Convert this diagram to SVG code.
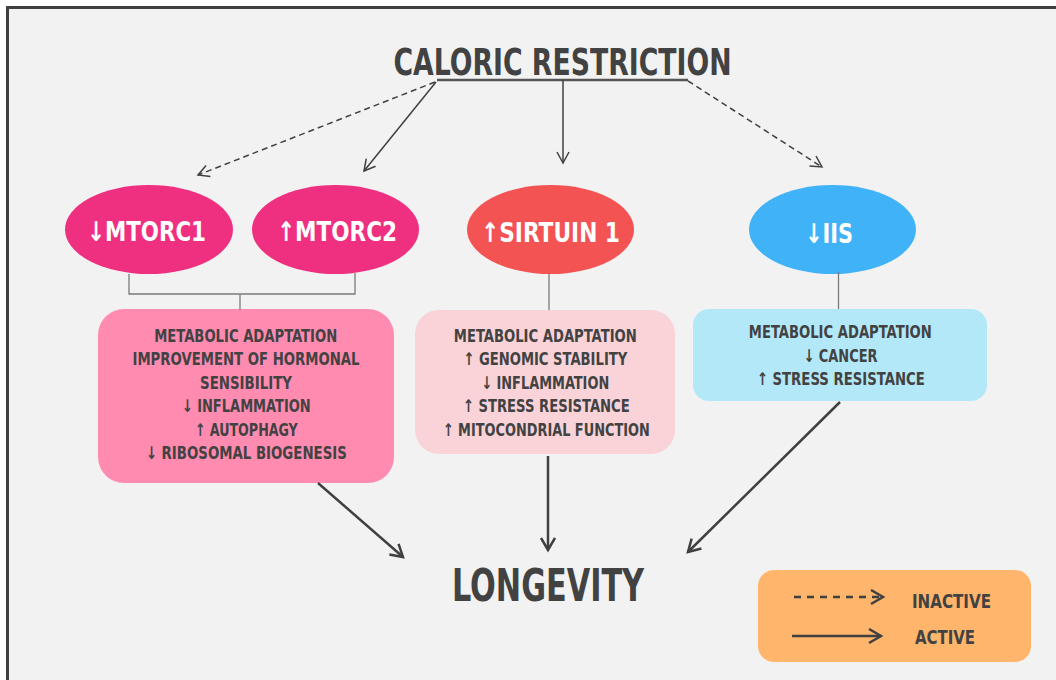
<svg xmlns="http://www.w3.org/2000/svg" width="1056" height="680" viewBox="0 0 1056 680">
<defs>
<style>
text{font-family:"Liberation Sans Narrow","DejaVu Sans Condensed","Liberation Sans",sans-serif;font-weight:bold;text-anchor:middle}
.w{fill:#ffffff;font-size:27px}
.d{fill:#424242}
.b{fill:#424242;font-size:17.5px}
.c{fill:none;stroke:#404040}
.thin{stroke-width:1.5}
.thick{stroke-width:2.5}
.dash{stroke-dasharray:6 4}
.tree{fill:none;stroke:#7a7a7a;stroke-width:1.3}
</style>
<marker id="ah" markerUnits="userSpaceOnUse" markerWidth="16" markerHeight="16" refX="12" refY="7" orient="auto">
<path d="M1,1 L12,7 L1,13" fill="none" stroke="#404040" stroke-width="1.5"/>
</marker>
<marker id="ahb" markerUnits="userSpaceOnUse" markerWidth="18" markerHeight="18" refX="13" refY="8" orient="auto">
<path d="M1,1 L13,8 L1,15" fill="none" stroke="#404040" stroke-width="2.5"/>
</marker>
</defs>
<rect x="0" y="0" width="1056" height="680" fill="#ffffff"/>
<rect x="6" y="6" width="1050" height="674" fill="#f2f2f2"/>
<path d="M7.5,680 V7.5 H1056" fill="none" stroke="#404040" stroke-width="3"/>

<g id="title">
<text class="d" x="562.5" y="75" font-size="37" textLength="338" lengthAdjust="spacingAndGlyphs">CALORIC RESTRICTION</text>
</g>

<g id="mtorc1">
<ellipse cx="149" cy="229.5" rx="84" ry="44.5" fill="#ef2f7f"/>
<text class="w" x="146.5" y="241" textLength="119" lengthAdjust="spacingAndGlyphs">↓MTORC1</text>
</g>
<g id="mtorc2">
<ellipse cx="335.5" cy="229.5" rx="83.5" ry="44.5" fill="#ef2f7f"/>
<text class="w" x="337" y="241" textLength="120" lengthAdjust="spacingAndGlyphs">↑MTORC2</text>
</g>
<g id="sirtuin1">
<ellipse cx="550.5" cy="229.5" rx="83.5" ry="44.5" fill="#f45353"/>
<text class="w" x="550.5" y="242" textLength="139" lengthAdjust="spacingAndGlyphs">↑SIRTUIN 1</text>
</g>
<g id="iis">
<ellipse cx="832.5" cy="229.5" rx="83.5" ry="44.5" fill="#40b2f8"/>
<text class="w" x="829" y="243" textLength="48" lengthAdjust="spacingAndGlyphs">↓IIS</text>
</g>

<g id="mtor-effects">
<rect x="98" y="309" width="296" height="174" rx="26" fill="#ff8bb1"/>
<text class="b" x="245.7" y="342" textLength="183" lengthAdjust="spacingAndGlyphs">METABOLIC ADAPTATION</text>
<text class="b" x="246" y="365" textLength="227" lengthAdjust="spacingAndGlyphs">IMPROVEMENT OF HORMONAL</text>
<text class="b" x="246" y="389" textLength="92" lengthAdjust="spacingAndGlyphs">SENSIBILITY</text>
<text class="b" x="246.2" y="412" textLength="129" lengthAdjust="spacingAndGlyphs">↓ INFLAMMATION</text>
<text class="b" x="246.3" y="436" textLength="103" lengthAdjust="spacingAndGlyphs">↑ AUTOPHAGY</text>
<text class="b" x="246.3" y="459" textLength="201" lengthAdjust="spacingAndGlyphs">↓ RIBOSOMAL BIOGENESIS</text>
</g>

<g id="sirtuin-effects">
<rect x="415" y="310" width="260" height="144" rx="24" fill="#f9d3d8"/>
<text class="b" x="545.3" y="342" textLength="183" lengthAdjust="spacingAndGlyphs">METABOLIC ADAPTATION</text>
<text class="b" x="545.3" y="365" textLength="164" lengthAdjust="spacingAndGlyphs">↑ GENOMIC STABILITY</text>
<text class="b" x="545.2" y="389" textLength="128" lengthAdjust="spacingAndGlyphs">↓ INFLAMMATION</text>
<text class="b" x="546.3" y="412" textLength="167" lengthAdjust="spacingAndGlyphs">↑ STRESS RESISTANCE</text>
<text class="b" x="546.3" y="436" textLength="207" lengthAdjust="spacingAndGlyphs">↑ MITOCONDRIAL FUNCTION</text>
</g>

<g id="iis-effects">
<rect x="693" y="309" width="294" height="92" rx="16" fill="#b3e8f8"/>
<text class="b" x="840.3" y="338" textLength="183" lengthAdjust="spacingAndGlyphs">METABOLIC ADAPTATION</text>
<text class="b" x="840.5" y="362" textLength="74" lengthAdjust="spacingAndGlyphs">↓ CANCER</text>
<text class="b" x="840.8" y="385" textLength="168" lengthAdjust="spacingAndGlyphs">↑ STRESS RESISTANCE</text>
</g>

<g id="longevity">
<text class="d" x="548" y="601" font-size="45" textLength="192" lengthAdjust="spacingAndGlyphs">LONGEVITY</text>
</g>

<g id="legend">
<rect x="758" y="570" width="273" height="92" rx="16" fill="#ffb56b"/>
<line class="c thick" x1="794" y1="597" x2="883" y2="597" stroke-dasharray="7 6" marker-end="url(#ahb)"/>
<line class="c thick" x1="792" y1="636" x2="881" y2="636" marker-end="url(#ahb)"/>
<text class="d" x="951.5" y="608" font-size="20" textLength="79" lengthAdjust="spacingAndGlyphs">INACTIVE</text>
<text class="d" x="945" y="644" font-size="20" textLength="60" lengthAdjust="spacingAndGlyphs">ACTIVE</text>
</g>

<g id="connectors">
<line x1="437" y1="80" x2="688" y2="80" stroke="#555555" stroke-width="2.5"/>
<line class="c thin dash" x1="435" y1="82" x2="198" y2="175" marker-end="url(#ah)"/>
<line class="c thin" x1="436" y1="82" x2="364" y2="171" marker-end="url(#ah)"/>
<line class="c thin" x1="563" y1="80" x2="563" y2="163" marker-end="url(#ah)"/>
<line class="c thin dash" x1="688" y1="81" x2="822" y2="167" marker-end="url(#ah)"/>
<path class="tree" d="M129,274 V294 H355 V273 M240,294 V310"/>
<line class="tree" x1="549" y1="274" x2="549" y2="310"/>
<line class="tree" x1="838.5" y1="272" x2="838.5" y2="309"/>
<line class="c thick" x1="318" y1="483" x2="403" y2="557" marker-end="url(#ahb)"/>
<line class="c thick" x1="548" y1="456" x2="548" y2="550" marker-end="url(#ahb)"/>
<line class="c thick" x1="840" y1="402" x2="688" y2="552" marker-end="url(#ahb)"/>
</g>
</svg>
